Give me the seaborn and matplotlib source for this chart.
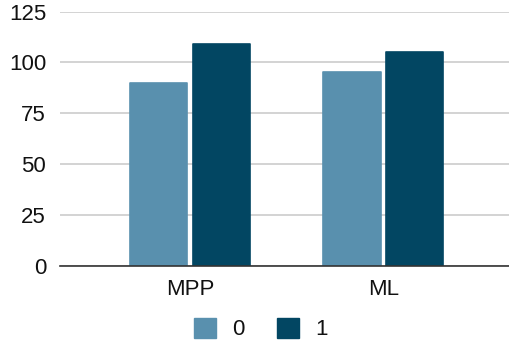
import matplotlib
matplotlib.use("Agg")
import matplotlib.pyplot as plt
import seaborn as sns
import pandas as pd

categories = ["MPP", "ML"]
series_names = ["0", "1"]
values_0 = [90, 95]
values_1 = [109, 105]
y_ticks = [0, 25, 50, 75, 100, 125]

colors = ["#5990AE", "#024662"]

df = pd.DataFrame({
    "cat": categories * 2,
    "grp": [series_names[0]] * len(categories) + [series_names[1]] * len(categories),
    "val": values_0 + values_1,
})

sns.set_theme(style="white")
plt.rcParams["font.family"] = ["Liberation Sans", "DejaVu Sans"]

fig = plt.figure(figsize=(5.10, 3.41), dpi=100)
ax = fig.add_axes([60 / 510, (341 - 265.5) / 341, 450 / 510, (265.5 - 11.5) / 341])

sns.barplot(data=df, x="cat", y="val", hue="grp", palette=colors,
            width=0.648, gap=0.086, ax=ax, legend=False, saturation=1)

# soften the bar corners slightly
for bar, c in zip(ax.patches, [colors[0]] * 2 + [colors[1]] * 2):
    bar.set_edgecolor(c)
    bar.set_linewidth(1.2)
    bar.set_joinstyle("round")

ax.set_xlim(-0.672, 1.654)
ax.set_ylim(0, 125)
ax.set_yticks(y_ticks)
ax.set_yticklabels([str(t) for t in y_ticks])
ax.yaxis.grid(True, color="#cccccc", linewidth=1.2)
ax.set_axisbelow(True)
ax.tick_params(axis="y", length=0, pad=10, labelsize=16, colors="#111111")
ax.tick_params(axis="x", length=0, pad=10, labelsize=16, colors="#111111")
ax.set_xlabel("")
ax.set_ylabel("")
for s in ["top", "right", "left"]:
    ax.spines[s].set_visible(False)
ax.spines["bottom"].set_color("#333333")
ax.spines["bottom"].set_linewidth(1.2)

handles = [plt.Rectangle((0, 0), 1, 1, color=c) for c in colors]
fig.legend(handles, series_names, loc="center", bbox_to_anchor=(0.511, 0.035),
           ncol=2, frameon=False, fontsize=16, handlelength=1.0,
           handleheight=1.0, handletextpad=0.72, columnspacing=1.45,
           labelcolor="#111111")

fig.savefig("out.png", dpi=100)
